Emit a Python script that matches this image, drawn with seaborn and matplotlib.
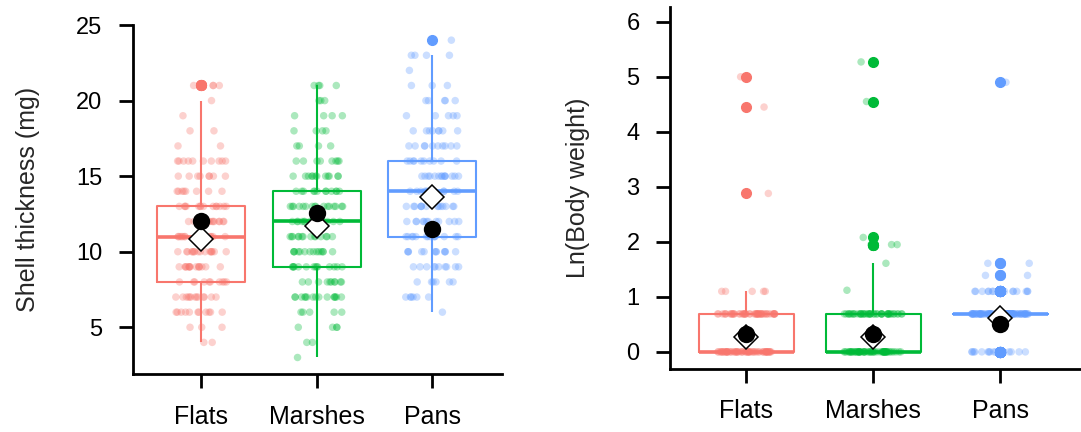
import numpy as np
import pandas as pd
import matplotlib
matplotlib.use("Agg")
import matplotlib.pyplot as plt
import seaborn as sns

# ---------------- data ----------------
categories = ["Flats", "Marshes", "Pans"]
palette = ["#F8766D", "#00BA38", "#619CFF"]

# Shell thickness (mg): observed values and their counts per habitat
shell_flats_values = [4, 5, 6, 7, 8, 9, 10, 11, 12, 13, 14, 15, 16, 17, 18, 19, 20, 21]
shell_flats_counts = [2, 3, 11, 13, 10, 15, 16, 15, 14, 14, 8, 8, 10, 2, 2, 1, 1, 4]
shell_marsh_values = [3, 4, 5, 6, 7, 8, 9, 10, 11, 12, 13, 14, 15, 16, 17, 18, 19, 20, 21]
shell_marsh_counts = [1, 2, 4, 5, 15, 10, 14, 14, 14, 15, 16, 12, 12, 8, 4, 4, 4, 3, 4]
shell_pans_values = [6, 7, 8, 9, 10, 11, 12, 13, 14, 15, 16, 17, 18, 19, 20, 21, 22, 23, 24]
shell_pans_counts = [1, 6, 6, 10, 12, 14, 12, 14, 16, 14, 10, 10, 8, 5, 5, 3, 1, 4, 1]

# Ln(Body weight): observed values and counts
bw_flats_values = [0.0, 0.69, 1.10, 2.88, 4.45, 5.00]
bw_flats_counts = [60, 50, 5, 1, 1, 1]
bw_marsh_values = [0.0, 0.69, 1.12, 1.61, 1.95, 2.08, 4.55, 5.27]
bw_marsh_counts = [60, 45, 1, 1, 3, 1, 1, 1]
bw_pans_values = [0.0, 0.69, 1.10, 1.39, 1.61, 4.90]
bw_pans_counts = [15, 90, 15, 2, 2, 1]

# summary markers (filled dot and open diamond)
shell_dot = [12.0, 12.55, 11.5]
shell_diamond = [10.85, 11.7, 13.65]
bw_dot = [0.33, 0.32, 0.50]
bw_diamond = [0.27, 0.27, 0.62]


def build(vals_list, counts_list):
    frames = []
    for cat, v, c in zip(categories, vals_list, counts_list):
        frames.append(pd.DataFrame({"group": cat, "value": np.repeat(v, c)}))
    return pd.concat(frames, ignore_index=True)


shell_df = build([shell_flats_values, shell_marsh_values, shell_pans_values],
                 [shell_flats_counts, shell_marsh_counts, shell_pans_counts])
bw_df = build([bw_flats_values, bw_marsh_values, bw_pans_values],
              [bw_flats_counts, bw_marsh_counts, bw_pans_counts])

# ---------------- style ----------------
sns.set_style("ticks")
plt.rcParams["font.family"] = ["Liberation Sans", "DejaVu Sans"]

fig = plt.figure(figsize=(10.81, 4.32), dpi=100)
ax1 = fig.add_axes([0.123, 0.134, 0.341, 0.808])
ax2 = fig.add_axes([0.620, 0.146, 0.385, 0.838])

np.random.seed(3)


def panel(ax, df, dot, diamond, width, ylabel, ylim, xlim, yticks):
    for cat, col in zip(categories, palette):
        sub = df[df["group"] == cat]
        sns.boxplot(data=sub, x="group", y="value", order=categories, ax=ax,
                    color=col, fill=False, width=width, linewidth=1.5,
                    whis=1.5, showcaps=False,
                    medianprops=dict(linewidth=2.6),
                    flierprops=dict(marker="o", markersize=7,
                                    markerfacecolor=col, markeredgecolor=col))
    sns.stripplot(data=df, x="group", y="value", hue="group", order=categories,
                  hue_order=categories, palette=palette, ax=ax, jitter=0.23,
                  size=5.4, alpha=0.33, linewidth=0, legend=False, zorder=3)
    sns.pointplot(x=categories, y=diamond, order=categories, ax=ax,
                  color="black", markers="D", linestyle="none", errorbar=None,
                  markersize=12.5, markerfacecolor="white",
                  markeredgewidth=1.1, zorder=5)
    sns.pointplot(x=categories, y=dot, order=categories, ax=ax,
                  color="black", markers="o", linestyle="none", errorbar=None,
                  markersize=12.5, markeredgewidth=0, zorder=6)
    ax.set_xlim(*xlim)
    ax.set_ylim(*ylim)
    ax.set_yticks(yticks)
    ax.set_xlabel("")
    ax.set_ylabel(ylabel, fontsize=18, labelpad=26)
    sns.despine(ax=ax)
    for s in ("left", "bottom"):
        ax.spines[s].set_linewidth(2.0)
        ax.spines[s].set_color("black")
    ax.tick_params(axis="both", length=10, width=2.0, color="black",
                   labelsize=17, pad=12, labelcolor="black")
    ax.tick_params(axis="x", labelsize=18)


panel(ax1, shell_df, shell_dot, shell_diamond, 0.76, "Shell thickness (mg)",
      (1.9, 25.0), (-0.59, 2.6), [5, 10, 15, 20, 25])
panel(ax2, bw_df, bw_dot, bw_diamond, 0.75, "Ln(Body weight)",
      (-0.31, 6.27), (-0.6, 2.68), [0, 1, 2, 3, 4, 5, 6])

fig.savefig("out.png", dpi=100)
